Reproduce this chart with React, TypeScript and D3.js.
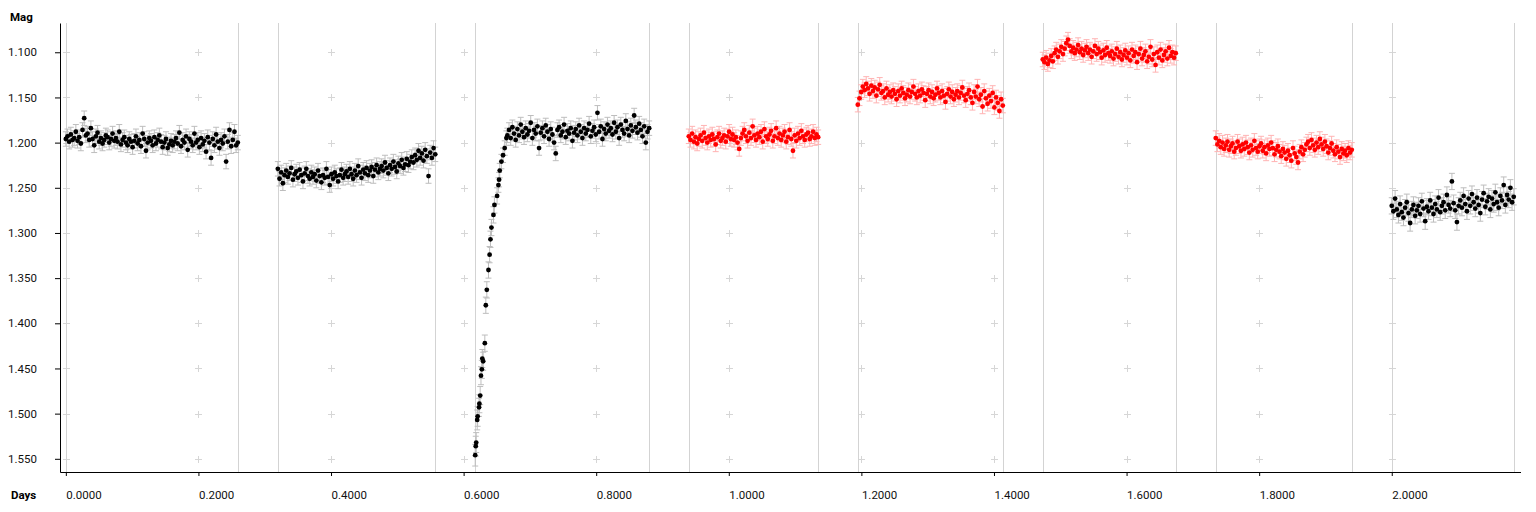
import { useEffect, useRef } from "react";
import * as d3 from "d3";

// observing nights: first and last frame (days)
const nightStart = [0, 0.3198, 0.6175, 0.9397, 1.1946, 1.4736, 1.7345, 2.0];
const nightEnd = [0.2594, 0.5572, 0.8799, 1.1348, 1.4133, 1.6742, 1.9397, 2.184];
// where the evenly spaced part of each night begins (night 3 starts with the ingress)
const cadenceStart = [0, 0.3198, 0.666, 0.9397, 1.1946, 1.4736, 1.7345, 2.0];
// 0 = first filter (black), 1 = second filter (red)
const nightGroup = [0, 0, 0, 1, 1, 1, 1, 0];
const nightErr = [0.008, 0.008, 0.008, 0.008, 0.008, 0.008, 0.008, 0.009];

const night1Mag = [
  1.196, 1.193, 1.199, 1.191, 1.197, 1.195, 1.188, 1.198, 1.194, 1.201, 1.186, 1.173, 1.192, 1.19, 1.197, 1.184, 1.196, 1.203, 1.193, 1.189,
  1.199, 1.195, 1.201, 1.197, 1.192, 1.194, 1.2, 1.196, 1.19, 1.198,
  1.195, 1.199, 1.188, 1.202, 1.197, 1.194, 1.2, 1.203, 1.196, 1.199, 1.205, 1.198, 1.193, 1.201, 1.197, 1.204, 1.19, 1.196, 1.209, 1.2,
  1.195, 1.198, 1.203, 1.194, 1.201, 1.197, 1.192, 1.199, 1.205, 1.2, 1.196, 1.206, 1.202, 1.198, 1.203,
  1.199, 1.195, 1.201, 1.189, 1.204, 1.197, 1.2, 1.193, 1.208, 1.196, 1.199, 1.203, 1.19, 1.2, 1.197, 1.205, 1.195, 1.202, 1.198, 1.21,
  1.194, 1.2, 1.217, 1.196, 1.203, 1.191, 1.199, 1.206, 1.197, 1.201, 1.193, 1.221, 1.199, 1.186, 1.204, 1.197, 1.188, 1.203, 1.2,
];
const night2Mag = [
  1.229, 1.24, 1.233, 1.245, 1.236, 1.231, 1.238, 1.234, 1.228, 1.241, 1.235, 1.232, 1.239, 1.23, 1.236, 1.243, 1.234, 1.229, 1.237, 1.24,
  1.233, 1.238, 1.235, 1.242, 1.231, 1.237, 1.244, 1.236, 1.239, 1.229, 1.238, 1.247, 1.235, 1.24, 1.233, 1.237, 1.243, 1.236, 1.23, 1.239, 1.235,
  1.232, 1.238, 1.229, 1.235, 1.24, 1.231, 1.236, 1.226, 1.233, 1.239, 1.23, 1.234, 1.228, 1.236, 1.231, 1.227, 1.237, 1.23, 1.225, 1.233, 1.229,
  1.226, 1.231, 1.222, 1.228, 1.234, 1.225, 1.229, 1.221, 1.227, 1.232, 1.223, 1.226, 1.219, 1.228, 1.224, 1.218, 1.225, 1.221,
  1.216, 1.222, 1.214, 1.219, 1.209, 1.217, 1.212, 1.22, 1.208, 1.215, 1.237, 1.211, 1.217, 1.206, 1.213,
];
// ingress of night 3, read point by point
const ingressDays = [
  0.6175, 0.6183, 0.619, 0.6205, 0.6212, 0.6233, 0.6238, 0.625, 0.6262, 0.6275, 0.6282, 0.6295, 0.632, 0.6335, 0.635,
  0.6375, 0.6392, 0.6405, 0.642, 0.645, 0.6465, 0.6505, 0.6525, 0.6535, 0.6545, 0.657, 0.6595, 0.662, 0.6645,
];
const ingressMag = [
  1.546, 1.536, 1.532, 1.507, 1.503, 1.493, 1.489, 1.48, 1.458, 1.451, 1.439, 1.442, 1.422, 1.38, 1.363,
  1.341, 1.324, 1.307, 1.294, 1.28, 1.269, 1.259, 1.247, 1.241, 1.231, 1.221, 1.214, 1.206, 1.195,
];
const ingressErr = [
  0.012, 0.011, 0.011, 0.011, 0.011, 0.01, 0.01, 0.01, 0.01, 0.01, 0.01, 0.01, 0.009, 0.009, 0.009,
  0.009, 0.009, 0.009, 0.009, 0.009, 0.009, 0.009, 0.008, 0.008, 0.008, 0.008, 0.008, 0.008, 0.008,
];
const night3Mag = [
  1.192, 1.186, 1.195, 1.183, 1.19, 1.197, 1.185, 1.192, 1.18, 1.188, 1.194, 1.184, 1.191, 1.187, 1.178, 1.195, 1.186, 1.19, 1.182, 1.206,
  1.189, 1.184, 1.193, 1.181, 1.188, 1.196, 1.185, 1.191, 1.2, 1.212, 1.186, 1.183, 1.192, 1.188, 1.18, 1.194, 1.187, 1.19, 1.184, 1.198, 1.189,
  1.185, 1.192, 1.181, 1.188, 1.195, 1.184, 1.19, 1.186, 1.179, 1.193, 1.187, 1.183, 1.191, 1.167, 1.188, 1.182, 1.196, 1.185, 1.19, 1.18, 1.187,
  1.184, 1.191, 1.178, 1.188, 1.183, 1.195, 1.18, 1.186, 1.19, 1.176, 1.185, 1.192, 1.181, 1.187, 1.17, 1.183, 1.189, 1.179, 1.186, 1.193,
  1.182, 1.2, 1.188, 1.184,
];
const night4Mag = [
  1.193, 1.197, 1.19, 1.199, 1.194, 1.201, 1.196, 1.192, 1.198, 1.189, 1.195, 1.2, 1.193, 1.197, 1.191, 1.196, 1.202, 1.194, 1.19, 1.198,
  1.195, 1.192, 1.199, 1.193, 1.188, 1.196, 1.191, 1.197, 1.194, 1.2, 1.207, 1.195, 1.19, 1.186, 1.193, 1.198, 1.189, 1.195, 1.182, 1.192,
  1.197, 1.19, 1.194, 1.188, 1.199, 1.185, 1.193, 1.196, 1.191, 1.187, 1.198, 1.193, 1.184, 1.195, 1.19, 1.197, 1.192, 1.188, 1.199, 1.194,
  1.186, 1.196, 1.209, 1.192, 1.198, 1.19, 1.195, 1.187, 1.193, 1.197, 1.191, 1.189, 1.196, 1.193, 1.188, 1.195, 1.191, 1.194,
];
const night5Mag = [
  1.158, 1.151, 1.144, 1.138, 1.142, 1.135, 1.14, 1.146, 1.137, 1.143, 1.139, 1.148, 1.141, 1.136, 1.145, 1.143, 1.15, 1.14, 1.147, 1.144,
  1.149, 1.142, 1.146, 1.152, 1.143, 1.148, 1.14, 1.145, 1.151, 1.147, 1.142, 1.149, 1.144, 1.138, 1.146, 1.15, 1.143, 1.148, 1.141, 1.145,
  1.153, 1.146, 1.142, 1.149, 1.144, 1.151, 1.147, 1.14, 1.145, 1.15, 1.143, 1.148, 1.155, 1.146, 1.141, 1.149, 1.144, 1.152, 1.147, 1.143,
  1.15, 1.145, 1.139, 1.148, 1.153, 1.146, 1.142, 1.15, 1.156, 1.144, 1.149, 1.138, 1.152, 1.147, 1.16, 1.143, 1.151, 1.157, 1.148, 1.154,
  1.145, 1.161, 1.15, 1.156, 1.165, 1.152, 1.159,
];
const night6Mag = [
  1.108, 1.111, 1.106, 1.113, 1.109, 1.104, 1.11, 1.101, 1.097, 1.105, 1.099, 1.094, 1.102, 1.096, 1.09, 1.086, 1.093, 1.099, 1.095, 1.101,
  1.097, 1.092, 1.1, 1.096, 1.103, 1.098, 1.094, 1.101, 1.097, 1.105, 1.099, 1.093, 1.102, 1.096, 1.1, 1.106, 1.098, 1.103, 1.095, 1.101,
  1.104, 1.099, 1.107, 1.102, 1.096, 1.105, 1.1, 1.108, 1.103, 1.098, 1.106, 1.101, 1.109, 1.097, 1.104, 1.1, 1.111, 1.102, 1.096, 1.107,
  1.103, 1.099, 1.11, 1.105, 1.094, 1.108, 1.102, 1.114, 1.1, 1.106, 1.097, 1.109, 1.103, 1.099, 1.107, 1.095, 1.104, 1.1, 1.106, 1.101,
];
const night7Mag = [
  1.195, 1.202, 1.198, 1.205, 1.2, 1.207, 1.203, 1.199, 1.208, 1.204, 1.201, 1.21, 1.206, 1.199, 1.204, 1.209, 1.202, 1.207, 1.2, 1.205,
  1.211, 1.203, 1.208, 1.198, 1.206, 1.21, 1.204, 1.201, 1.209, 1.205, 1.212, 1.203, 1.207, 1.2, 1.206, 1.213, 1.208, 1.204, 1.21, 1.215,
  1.207, 1.211, 1.218, 1.209, 1.214, 1.22, 1.206, 1.212, 1.216, 1.222, 1.21, 1.205, 1.213, 1.208, 1.202, 1.199, 1.206, 1.197, 1.203, 1.208,
  1.2, 1.205, 1.196, 1.202, 1.207, 1.199, 1.204, 1.211, 1.206, 1.201, 1.209, 1.213, 1.205, 1.21, 1.216, 1.207, 1.212, 1.209, 1.214, 1.206,
  1.211, 1.208,
];
const night8Mag = [
  1.27, 1.276, 1.262, 1.274, 1.28, 1.268, 1.277, 1.283, 1.272, 1.266, 1.278, 1.289, 1.274, 1.269, 1.281, 1.275, 1.27, 1.279, 1.265, 1.273,
  1.287, 1.271, 1.276, 1.264, 1.272, 1.279, 1.268, 1.274, 1.261, 1.277, 1.27, 1.266, 1.275, 1.258, 1.269, 1.273, 1.243, 1.267, 1.275, 1.288,
  1.27, 1.264, 1.272, 1.259, 1.268, 1.276, 1.262, 1.27, 1.257, 1.266, 1.273, 1.261, 1.269, 1.278, 1.263, 1.256, 1.271, 1.265, 1.26, 1.274,
  1.262, 1.268, 1.255, 1.266, 1.272, 1.259, 1.264, 1.247, 1.269, 1.258, 1.263, 1.25, 1.266, 1.26,
];
const nightMags = [night1Mag, night2Mag, night3Mag, night4Mag, night5Mag, night6Mag, night7Mag, night8Mag];

const xTicks = [0, 0.2, 0.4, 0.6, 0.8, 1.0, 1.2, 1.4, 1.6, 1.8, 2.0];
const yTicks = [1.1, 1.15, 1.2, 1.25, 1.3, 1.35, 1.4, 1.45, 1.5, 1.55];

type Pt = { day: number; mag: number; err: number; group: number };

export default function App() {
  const ref = useRef<SVGSVGElement>(null);

  useEffect(() => {
    if (!ref.current) return;
    const svg = d3.select(ref.current);
    svg.selectAll("*").remove();

    const x = d3.scaleLinear().domain([-0.0088, 2.1942]).range([60, 1520.5]);
    const y = d3.scaleLinear().domain([1.0676, 1.5646]).range([23, 472]);

    const pts: Pt[] = [];
    nightMags.forEach((mags, n) => {
      if (n === 2) {
        ingressDays.forEach((d, i) => pts.push({ day: d, mag: ingressMag[i], err: ingressErr[i], group: nightGroup[n] }));
      }
      const step = (nightEnd[n] - cadenceStart[n]) / (mags.length - 1);
      mags.forEach((m, i) => pts.push({ day: cadenceStart[n] + i * step, mag: m, err: nightErr[n], group: nightGroup[n] }));
    });

    const dotColor = ["#000000", "#ff0000"];
    const barColor = ["#bdbdbd", "#ffb3b3"];

    // grid crosses
    const crosses = svg.append("g").attr("stroke", "#d6d6d6").attr("stroke-width", 1);
    xTicks.forEach((tx) => {
      yTicks.forEach((ty) => {
        const cx = Math.round(x(tx)) + 0.5;
        const cy = Math.round(y(ty)) + 0.5;
        crosses.append("line").attr("x1", cx - 3.5).attr("x2", cx + 3.5).attr("y1", cy).attr("y2", cy);
        crosses.append("line").attr("x1", cx).attr("x2", cx).attr("y1", cy - 3.5).attr("y2", cy + 3.5);
      });
    });

    // night edges
    const edges = nightStart.concat(nightEnd);
    svg.append("g")
      .selectAll("line")
      .data(edges)
      .join("line")
      .attr("x1", (d) => Math.round(x(d)) + 0.5)
      .attr("x2", (d) => Math.round(x(d)) + 0.5)
      .attr("y1", 23)
      .attr("y2", 472)
      .attr("stroke", "#d3d3d3")
      .attr("stroke-width", 1);

    // error bars
    const bars = svg.append("g").attr("stroke-width", 1);
    pts.forEach((p) => {
      const px = x(p.day);
      const y0 = y(p.mag - p.err);
      const y1 = y(p.mag + p.err);
      const c = barColor[p.group];
      bars.append("line").attr("x1", px).attr("x2", px).attr("y1", y0).attr("y2", y1).attr("stroke", c);
      bars.append("line").attr("x1", px - 3).attr("x2", px + 3).attr("y1", y0).attr("y2", y0).attr("stroke", c);
      bars.append("line").attr("x1", px - 3).attr("x2", px + 3).attr("y1", y1).attr("y2", y1).attr("stroke", c);
    });

    // points
    svg.append("g")
      .selectAll("circle")
      .data(pts)
      .join("circle")
      .attr("cx", (d) => x(d.day))
      .attr("cy", (d) => y(d.mag))
      .attr("r", 2.4)
      .attr("fill", (d) => dotColor[d.group]);

    const font = "Roboto, 'Noto Sans', sans-serif";

    // y axis
    const yAxis = svg.append("g")
      .attr("transform", "translate(60,0)")
      .call(
        d3.axisLeft(y).tickValues(yTicks).tickSize(5).tickSizeOuter(0).tickPadding(18).tickFormat(d3.format(".3f"))
      );
    yAxis.selectAll("text").attr("font-family", font).attr("font-size", 11.5).attr("fill", "#111");

    // x axis
    const xAxis = svg.append("g")
      .attr("transform", "translate(0,472)")
      .call(d3.axisBottom(x).tickValues(xTicks).tickSize(4).tickSizeOuter(0).tickFormat(d3.format(".4f")));
    xAxis.selectAll("text")
      .attr("font-family", font)
      .attr("font-size", 11.5)
      .attr("fill", "#111")
      .attr("text-anchor", "start")
      .attr("dy", null)
      .attr("y", 26.5);

    svg.append("text")
      .attr("x", 10)
      .attr("y", 21)
      .attr("font-family", font)
      .attr("font-size", 11.5)
      .attr("font-weight", "bold")
      .attr("fill", "#000")
      .text("Mag");
    svg.append("text")
      .attr("x", 11)
      .attr("y", 498.5)
      .attr("font-family", font)
      .attr("font-size", 11.5)
      .attr("font-weight", "bold")
      .attr("fill", "#000")
      .text("Days");
  }, []);

  return <svg ref={ref} width={1536} height={512} style={{ position: "absolute", left: 0, top: 0, background: "#fff" }} />;
}
